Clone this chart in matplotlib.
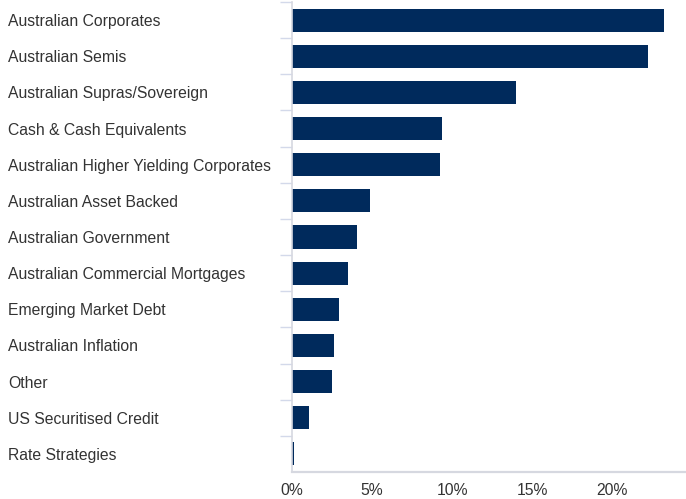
import matplotlib

matplotlib.use("Agg")

import matplotlib.pyplot as plt
from matplotlib.ticker import FixedLocator, FuncFormatter

sectors = [
    "Australian Corporates",
    "Australian Semis",
    "Australian Supras/Sovereign",
    "Cash & Cash Equivalents",
    "Australian Higher Yielding Corporates",
    "Australian Asset Backed",
    "Australian Government",
    "Australian Commercial Mortgages",
    "Emerging Market Debt",
    "Australian Inflation",
    "Other",
    "US Securitised Credit",
    "Rate Strategies",
]
weights = [23.25, 22.25, 14.0, 9.38, 9.25, 4.88, 4.06, 3.5, 2.94, 2.63, 2.5, 1.06, 0.1]
x_ticks = [0, 5, 10, 15, 20]

navy = "#002a5c"
text_color = "#333333"
axis_color = "#d6d8e0"

plt.rcParams["font.family"] = ["Liberation Sans", "DejaVu Sans"]

fig = plt.figure(figsize=(6.86, 4.99), dpi=100)
ax = fig.add_axes([292 / 686, 27 / 499, 394 / 686, 470 / 499])

n = len(sectors)
positions = list(range(n))
ax.barh(positions, weights, height=0.64, color=navy, edgecolor="none")

ax.set_ylim(n - 0.5, -0.5)
ax.set_xlim(0, 24.625)

# category labels sit flush left near the figure edge
ax.set_yticks(positions)
ax.set_yticklabels(sectors)
ax.tick_params(axis="y", which="major", length=0, pad=204.5, labelsize=11.3, labelcolor=text_color)
for lbl in ax.get_yticklabels():
    lbl.set_horizontalalignment("left")

# separators between categories
ax.yaxis.set_minor_locator(FixedLocator([p + 0.5 for p in positions[:-1]] + [-0.5]))
ax.tick_params(axis="y", which="minor", length=8.6, width=1.0, color="#d3d9ea")

ax.xaxis.set_major_locator(FixedLocator(x_ticks))
ax.xaxis.set_major_formatter(FuncFormatter(lambda v, _: f"{v:.0f}%"))
ax.tick_params(axis="x", length=0, pad=8, labelsize=11.3, labelcolor=text_color)

for side in ("top", "right"):
    ax.spines[side].set_visible(False)
ax.spines["left"].set_color(axis_color)
ax.spines["left"].set_linewidth(1.2)
ax.spines["bottom"].set_color(axis_color)
ax.spines["bottom"].set_linewidth(1.6)

fig.savefig("out.png", dpi=100)
